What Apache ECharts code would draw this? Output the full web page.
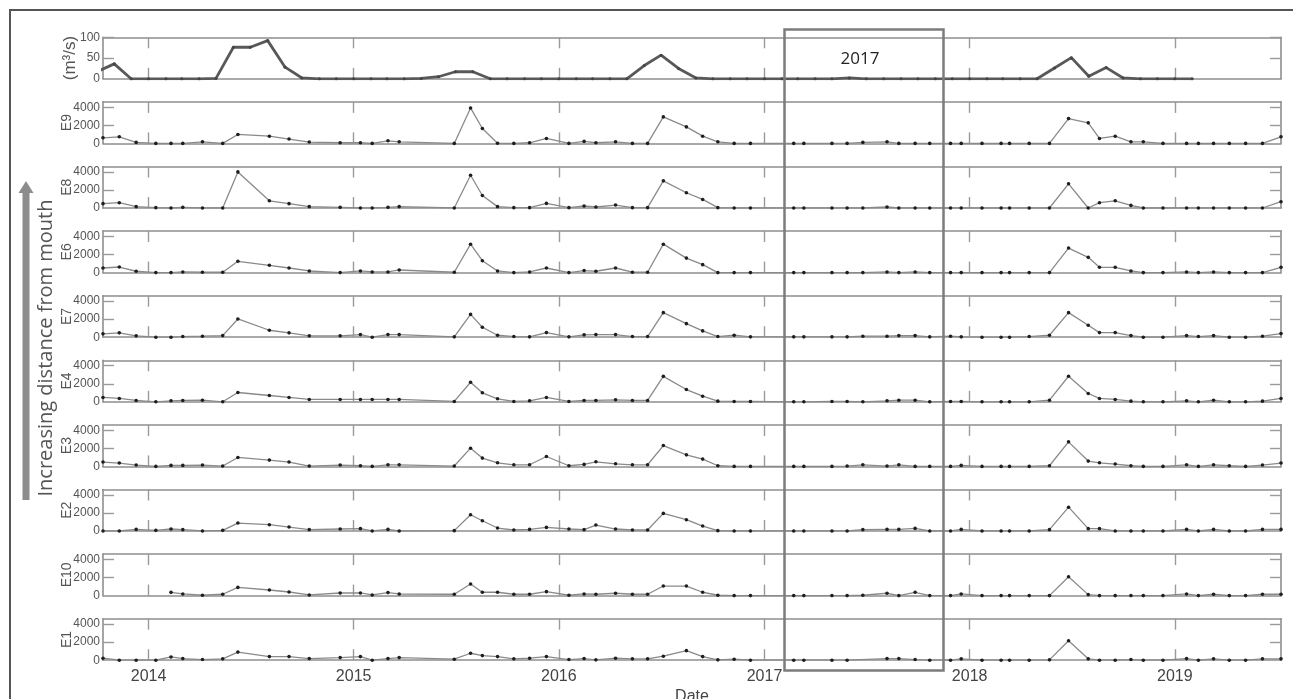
<!DOCTYPE html>
<html>
<head>
<meta charset="utf-8">
<script src="https://cdn.jsdelivr.net/npm/echarts@6/dist/echarts.min.js"></script>
<style>
html,body{margin:0;padding:0;background:#fff;}
#chart{width:1293px;height:699px;}
</style>
</head>
<body>
<div id="chart"></div>
<script>
// ---------------- data ----------------
const flowMonths = ['2013-10','2013-11','2013-12',
 '2014-01','2014-02','2014-03','2014-04','2014-05','2014-06','2014-07','2014-08','2014-09','2014-10','2014-11','2014-12',
 '2015-01','2015-02','2015-03','2015-04','2015-05','2015-06','2015-07','2015-08','2015-09','2015-10','2015-11','2015-12',
 '2016-01','2016-02','2016-03','2016-04','2016-05','2016-06','2016-07','2016-08','2016-09','2016-10','2016-11','2016-12',
 '2017-01','2017-02','2017-03','2017-04','2017-05','2017-06','2017-07','2017-08','2017-09','2017-10','2017-11','2017-12',
 '2018-01','2018-02','2018-03','2018-04','2018-05','2018-06','2018-07','2018-08','2018-09','2018-10','2018-11','2018-12',
 '2019-01','2019-02'];
const flowValues = [17,36,0,
 0,0,0,0,1,76,76,92,28,2,0,0,
 0,0,0,0,1,5,17,17,0,0,0,0,
 0,0,0,0,0,32,57,25,2,0,0,0,
 0,0,0,0,0,2,0,0,0,0,0,0,
 0,0,0,0,0,26,51,6,27,2,0,0,
 0,0];

const sampleDates = ['2013-10-12','2013-11-10','2013-12-10','2014-01-14','2014-02-10','2014-03-03','2014-04-07','2014-05-13',
 '2014-06-09','2014-08-04','2014-09-08','2014-10-14','2014-12-08','2015-01-13','2015-02-03','2015-03-03','2015-03-23',
 '2015-06-29','2015-07-28','2015-08-18','2015-09-14','2015-10-13','2015-11-10','2015-12-10','2016-01-19','2016-02-15',
 '2016-03-07','2016-04-11','2016-05-11','2016-06-07','2016-07-05','2016-08-15','2016-09-13','2016-10-10','2016-11-08',
 '2016-12-07','2017-02-22','2017-03-12','2017-05-01','2017-05-28','2017-06-25','2017-08-07','2017-08-28','2017-09-26',
 '2017-10-22','2017-11-28','2017-12-17','2018-01-23','2018-02-26','2018-03-13','2018-04-17','2018-05-23','2018-06-26',
 '2018-07-31','2018-08-20','2018-09-17','2018-10-15','2018-11-06','2018-12-11','2019-01-22','2019-02-12','2019-03-11',
 '2019-04-08','2019-05-07','2019-06-06','2019-07-09'];

const E9 = [620,730,110,0,0,0,180,0,990,800,480,150,70,70,0,290,180,
 0,3930,1650,20,0,70,550,0,220,70,180,0,0,2940,1830,800,180,0,0,
 0,0,0,0,110,180,0,0,0,0,0,0,0,0,0,0,
 2750,2280,550,800,180,180,0,0,0,0,0,0,0,730];
const E8 = [480,590,150,40,0,70,0,0,4000,800,480,150,70,0,0,70,150,
 0,3630,1390,150,40,40,510,40,220,110,330,40,40,3010,1690,950,40,0,0,
 0,0,0,0,0,110,0,0,0,0,0,0,0,0,0,0,
 2680,0,590,800,290,0,0,0,0,0,0,0,0,700];
const E6 = [510,620,150,0,0,70,40,40,1250,810,510,180,0,180,70,70,290,
 40,3150,1320,180,0,70,510,0,220,150,510,40,40,3150,1610,880,0,0,0,
 0,0,0,0,0,70,0,70,0,0,0,0,0,0,0,0,
 2720,1690,590,590,180,0,0,70,0,70,0,0,0,590];
const E7 = [370,480,150,0,0,70,110,180,2020,770,480,150,150,290,0,290,290,
 40,2530,1100,220,70,40,510,40,260,290,290,70,70,2720,1500,700,70,220,40,
 40,40,40,40,110,110,180,180,40,110,40,0,0,0,70,220,
 2720,1320,510,510,180,0,0,180,70,180,0,0,110,400];
const E4 = [480,370,150,0,110,150,180,0,1030,700,480,260,260,260,260,260,260,
 40,2170,1000,330,40,110,480,40,150,150,220,150,150,2820,1360,620,70,40,40,
 0,0,40,40,0,110,180,180,0,40,40,0,0,0,0,180,
 2830,920,370,260,70,0,0,110,0,180,0,0,70,370];
const E3 = [480,370,150,0,110,110,150,40,990,700,480,40,150,70,0,180,180,
 40,2020,920,400,180,180,1100,70,220,510,290,180,180,2310,1280,810,70,0,0,
 0,0,0,40,180,40,180,0,0,0,110,0,0,0,0,70,
 2720,590,400,260,70,0,0,180,0,180,70,0,150,370];
const E2 = [0,0,180,70,220,150,0,70,880,700,440,150,220,260,0,180,0,
 40,1800,1140,330,110,180,400,220,150,660,220,110,110,1950,1250,550,40,0,0,
 0,0,0,0,150,180,180,290,0,0,180,0,0,0,0,150,
 2640,260,260,0,0,0,0,180,0,180,0,0,180,180];
const E10 = [null,null,null,null,360,180,40,150,910,620,400,70,290,290,70,330,180,
 150,1280,370,370,150,150,440,40,180,150,260,150,150,1060,1060,370,40,0,0,
 0,0,0,0,40,260,0,370,0,0,180,0,0,0,0,0,
 2090,110,0,0,0,0,0,180,0,150,0,0,150,150];
const E1 = [220,0,0,0,360,180,70,150,900,400,400,180,290,400,0,180,290,
 110,770,510,400,150,220,400,70,180,40,220,150,150,440,1060,400,40,110,0,
 0,0,0,0,null,180,180,70,0,0,150,0,0,0,0,40,
 2160,150,0,0,70,0,0,180,0,150,0,0,150,150];

const stationNames = ['E9','E8','E6','E7','E4','E3','E2','E10','E1'];
const stationValues = [E9,E8,E6,E7,E4,E3,E2,E10,E1];
const yearLabels = [2014,2015,2016,2017,2018,2019];
const xStart = '2013-10-12';
const xEnd = '2019-07-09';

// ---------------- helpers ----------------
function toMs(s){
  const p = s.split('-').map(Number);
  return Date.UTC(p[0], p[1]-1, p[2] || 1);
}
const xMin = toMs(xStart), xMax = toMs(xEnd);
const yearMs = yearLabels.map(y => Date.UTC(y,0,1));

const LEFT = 103, RIGHT = 12, TOP0 = 37.3, STEP = 64.6, H = 41.5;
const axisCol = '#8f8f8f', tickCol = '#9a9a9a', labCol = '#555';
const numFont = 'Liberation Sans, Arial, sans-serif';

const grids = [], xAxes = [], yAxes = [], series = [];
for (let i = 0; i < 10; i++) {
  grids.push({left: LEFT, right: RIGHT, top: TOP0 + i*STEP, height: H, outerBoundsMode: 'none', containLabel: false});
  const last = (i === 9);
  const xCommon = {
    gridIndex: i, type: 'value', min: xMin, max: xMax,
    axisLine: {show: true, onZero: false, lineStyle: {color: axisCol, width: 1.6}},
    axisTick: {show: true, inside: true, length: 11, customValues: yearMs, lineStyle: {color: tickCol, width: 1.4}},
    splitLine: {show: false}
  };
  xAxes.push(Object.assign({}, xCommon, {
    position: 'bottom',
    axisLabel: {show: last, customValues: yearMs, margin: 8, fontSize: 16, color: '#444', fontFamily: numFont,
      formatter: v => String(new Date(v).getUTCFullYear())},
    name: last ? 'Date' : '', nameLocation: 'middle', nameGap: 28, nameMoveOverlap: false,
    nameTextStyle: {fontSize: 16, color: '#444', fontFamily: numFont}
  }));
  xAxes.push(Object.assign({}, xCommon, {position: 'top', axisLabel: {show: false}}));

  const isFlow = (i === 0);
  const yMax = isFlow ? 100 : 4600;
  const lab = isFlow ? [0,50,100] : [0,2000,4000];
  const tk = isFlow ? [50,100] : [2000,4000];
  const yCommon = {
    gridIndex: i, type: 'value', min: 0, max: yMax,
    axisLine: {show: true, onZero: false, lineStyle: {color: axisCol, width: 1.6}},
    axisTick: {show: true, inside: true, length: 11, customValues: tk, lineStyle: {color: tickCol, width: 1.4}},
    splitLine: {show: false}
  };
  yAxes.push(Object.assign({}, yCommon, {
    position: 'left',
    axisLabel: {show: true, customValues: lab, margin: 3, fontSize: 12, color: labCol, fontFamily: numFont,
      formatter: v => String(v)},
    name: isFlow ? '(m³/s)' : stationNames[i-1],
    nameLocation: 'middle', nameRotate: 90, nameGap: isFlow ? 24 : 29, nameMoveOverlap: false,
    nameTextStyle: {fontSize: isFlow ? 17 : 14, color: labCol, fontFamily: numFont}
  }));
  yAxes.push(Object.assign({}, yCommon, {position: 'right', axisLabel: {show: false}}));

  if (isFlow) {
    series.push({
      type: 'line', xAxisIndex: 0, yAxisIndex: 0, clip: true,
      data: flowMonths.map((m, j) => [toMs(m), flowValues[j]]),
      symbol: 'circle', symbolSize: 3, itemStyle: {color: '#444'},
      lineStyle: {color: '#595959', width: 2.8}, animation: false
    });
  } else {
    const vals = stationValues[i-1];
    series.push({
      type: 'line', xAxisIndex: 2*i, yAxisIndex: 2*i, clip: true, connectNulls: true,
      data: sampleDates.map((d, j) => [toMs(d), vals[j] == null ? '-' : vals[j]]),
      symbol: 'circle', symbolSize: 3.6, itemStyle: {color: '#1e1e1e'},
      lineStyle: {color: '#8a8a8a', width: 1.3}, animation: false
    });
  }
}

const chart = echarts.init(document.getElementById('chart'), null, {renderer: 'canvas'});
chart.setOption({
  backgroundColor: '#fff',
  animation: false,
  grid: grids, xAxis: xAxes, yAxis: yAxes, series: series,
  graphic: [
    {type: 'rect', silent: true, z: 100, shape: {x: 10, y: 10, width: 1320, height: 720},
     style: {fill: 'none', stroke: '#555', lineWidth: 2}},
    {type: 'rect', silent: true, z: 100, shape: {x: 784.5, y: 29.5, width: 159, height: 641},
     style: {fill: 'none', stroke: '#7c7c7c', lineWidth: 2.5}},
    {type: 'text', silent: true, z: 100, x: 860, y: 59,
     style: {text: '2017', fill: '#222', font: '17px "Open Sans", sans-serif', textAlign: 'center', textVerticalAlign: 'middle'}},
    {type: 'polygon', silent: true, z: 100, shape: {points: [[18.5,193],[26,181],[33.5,193]]}, style: {fill: '#8c8c8c'}},
    {type: 'rect', silent: true, z: 100, shape: {x: 22.5, y: 192, width: 7, height: 308}, style: {fill: '#8c8c8c'}},
    {type: 'text', silent: true, z: 100, x: 46, y: 348, rotation: Math.PI/2,
     style: {text: 'Increasing distance from mouth', fill: '#555', font: '20px "Open Sans", sans-serif', textAlign: 'center', textVerticalAlign: 'middle'}}
  ]
});
</script>
</body>
</html>
